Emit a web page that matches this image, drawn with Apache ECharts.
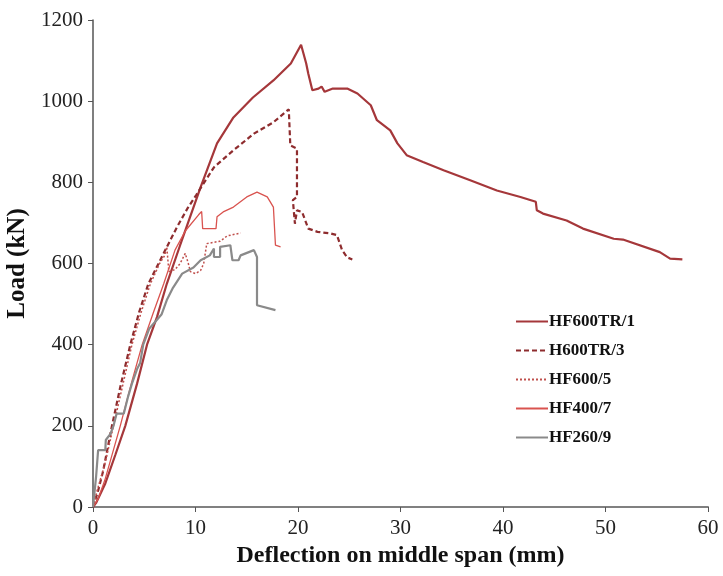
<!DOCTYPE html>
<html>
<head>
<meta charset="utf-8">
<script src="https://cdn.jsdelivr.net/npm/echarts@6/dist/echarts.min.js"></script>
<style>
  html, body { margin: 0; padding: 0; background: #fff; }
  #chart { width: 723px; height: 576px; }
</style>
</head>
<body>
<div id="chart"></div>
<script>
// Deflection (mm) / load (kN) pairs
const seriesNames = ['HF600TR/1', 'H600TR/3', 'HF600/5', 'HF400/7', 'HF260/9'];

const hf600tr1 = [
  [0, 0], [0.3, 10], [1.2, 58], [2.2, 130], [3.15, 200], [4.3, 304], [5.27, 400], [6.24, 468],
  [7.2, 550], [8.5, 645], [10.5, 788], [12.1, 896], [13.7, 960], [15.6, 1009], [17.6, 1051],
  [19.3, 1093], [20.3, 1139], [20.8, 1093], [21.0, 1068], [21.4, 1027], [22.0, 1031],
  [22.3, 1036], [22.6, 1023], [23.4, 1031], [24.8, 1031], [25.8, 1019], [27.1, 990],
  [27.7, 953], [29.0, 928], [29.7, 896], [30.6, 867], [32.2, 850], [34.2, 830], [36.8, 805],
  [39.4, 780], [41.7, 764], [43.2, 752], [43.3, 731], [43.9, 723], [46.2, 706], [47.8, 686],
  [50.8, 661], [51.7, 659], [55.3, 628], [56.3, 612], [57.5, 610]
];

const h600tr3 = [
  [0, 0], [0.5, 40], [1.0, 90], [1.85, 200], [2.7, 300], [3.64, 400], [4.5, 480], [5.4, 550],
  [7.05, 633], [8.2, 690], [9.2, 735], [10.1, 770], [11.8, 837], [13.7, 879], [15.7, 920],
  [17.6, 948], [19.1, 980], [19.25, 891], [19.9, 883], [19.9, 764], [19.5, 756], [19.7, 698],
  [19.9, 731], [20.4, 727], [21.0, 686], [21.9, 678], [23.2, 674], [23.8, 670], [24.3, 633],
  [24.8, 615], [25.3, 610]
];

const hf600_5 = [
  [0, 0], [0.4, 40], [1.2, 110], [2.0, 200], [2.9, 300], [3.8, 400], [4.7, 480], [5.6, 550],
  [6.5, 600], [7.0, 620], [7.2, 641], [7.4, 580], [8.0, 585], [8.5, 600], [9.0, 625],
  [9.3, 600], [9.5, 580], [10.0, 575], [10.5, 583], [10.8, 600], [11.1, 649], [12.4, 655],
  [13.1, 668], [14.4, 675]
];

const hf400_7 = [
  [0, 0], [0.5, 20], [1.2, 70], [2.66, 200], [3.8, 310], [4.8, 400], [5.9, 480], [6.9, 550],
  [8.0, 633], [9.0, 680], [10.3, 720], [10.6, 728], [10.7, 686], [12.0, 686], [12.1, 715],
  [12.7, 727], [13.7, 739], [15.0, 764], [16.0, 776], [17.0, 764], [17.6, 739], [17.8, 645],
  [18.3, 641]
];

const hf260_9 = [
  [0, 0], [0.3, 74], [0.5, 140], [1.2, 140], [1.25, 165], [1.7, 180], [2.0, 200], [2.3, 230],
  [3.0, 230], [3.4, 270], [3.8, 304], [4.3, 340], [4.6, 355], [4.9, 400], [5.5, 440],
  [6.2, 460], [6.7, 475], [7.2, 510], [7.8, 540], [8.7, 575], [9.8, 590], [10.5, 608],
  [11.4, 620], [11.8, 637], [11.8, 616], [12.4, 616], [12.4, 641], [13.4, 645], [13.6, 608],
  [14.2, 608], [14.4, 620], [15.7, 633], [16.0, 616], [16.0, 497], [17.8, 485]
];

const xTicks = { min: 0, max: 60, step: 10 };
const yTicks = { min: 0, max: 1200, step: 200 };

const serif = '"Liberation Serif", "Times New Roman", serif';

const chart = echarts.init(document.getElementById('chart'));

function lineSeries(name, data, color, width, type) {
  return {
    name: name,
    type: 'line',
    data: data,
    showSymbol: false,
    symbol: 'none',
    smooth: false,
    lineStyle: { color: color, width: width, type: type },
    itemStyle: { color: color },
    animation: false
  };
}

chart.setOption({
  backgroundColor: '#ffffff',
  grid: { left: 93, right: 15, top: 20, bottom: 69, outerBoundsMode: 'none' },
  legend: {
    orient: 'vertical',
    left: 510,
    top: 308,
    itemWidth: 32,
    itemHeight: 12,
    itemGap: 12,
    itemStyle: { opacity: 0 },
    textStyle: { fontFamily: serif, fontWeight: 'bold', fontSize: 17, color: '#111', padding: [0, 0, 0, -4] },
    data: seriesNames
  },
  xAxis: {
    type: 'value',
    min: xTicks.min,
    max: xTicks.max,
    interval: xTicks.step,
    name: 'Deflection on middle span (mm)',
    nameLocation: 'middle',
    nameGap: 35,
    nameTextStyle: { fontFamily: serif, fontWeight: 'bold', fontSize: 24, color: '#111' },
    axisLine: { lineStyle: { color: '#808080', width: 2 } },
    axisTick: { show: true, length: 5, lineStyle: { color: '#555', width: 1 } },
    axisLabel: { fontFamily: serif, fontSize: 21, color: '#222', margin: 11, formatter: v => String(v) },
    splitLine: { show: false }
  },
  yAxis: {
    type: 'value',
    min: yTicks.min,
    max: yTicks.max,
    interval: yTicks.step,
    name: 'Load (kN)',
    nameLocation: 'middle',
    nameGap: 59,
    nameTextStyle: { fontFamily: serif, fontWeight: 'bold', fontSize: 25, color: '#111' },
    axisLine: { show: true, lineStyle: { color: '#555', width: 1.5 } },
    axisTick: { show: true, length: 5, lineStyle: { color: '#555', width: 1 } },
    axisLabel: { fontFamily: serif, fontSize: 21, color: '#222', margin: 10, formatter: v => String(v) },
    splitLine: { show: false }
  },
  series: [
    lineSeries(seriesNames[0], hf600tr1, '#A5373A', 2.2, 'solid'),
    lineSeries(seriesNames[1], h600tr3, '#8E2C2E', 2.2, [5, 3]),
    lineSeries(seriesNames[2], hf600_5, '#C0504D', 1.5, [2, 2]),
    lineSeries(seriesNames[3], hf400_7, '#D9534F', 1.3, 'solid'),
    lineSeries(seriesNames[4], hf260_9, '#8A8A8A', 2.2, 'solid')
  ]
});
</script>
</body>
</html>
